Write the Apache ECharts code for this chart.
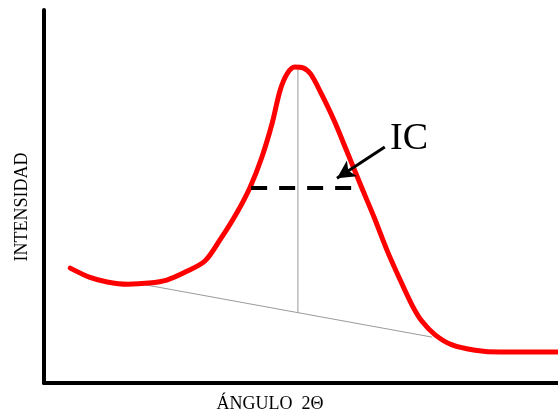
<!DOCTYPE html>
<html>
<head>
<meta charset="utf-8">
<script src="https://cdn.jsdelivr.net/npm/echarts@6/dist/echarts.min.js"></script>
<style>html,body{margin:0;padding:0;background:#fff}#c{width:558px;height:413px}</style>
</head>
<body>
<div id="c"></div>
<script>
// Curve (arbitrary units: x 0-100 along 2θ, y 0-100 intensity)
var curveX = [5.1, 8.8, 12.3, 16.3, 20.4, 23.9, 27.6, 31.3, 34.2, 37.5, 40.1, 42.4, 44.4, 45.9, 47.3, 48.8, 50.4, 51.9, 53.9, 56.4, 58.9, 61.5, 64.2, 66.7, 69.3, 71.6, 73.5, 76.1, 79.4, 83.9, 88.7, 100];
var curveY = [30.8, 28.4, 27.1, 26.5, 26.8, 27.6, 29.8, 32.7, 38.3, 45.6, 52.5, 60.6, 69.7, 78.3, 82.9, 84.7, 84.5, 82.8, 77.7, 70.5, 62.2, 53.4, 44.5, 35.7, 27.6, 20.9, 16.6, 12.9, 10.2, 8.8, 8.3, 8.3];
var baselineX = [19.8, 75.5];
var baselineY = [26.3, 12.3];
var peakLineX = [49.4, 49.4];
var peakLineY = [84.7, 18.8];
var halfX = [40.3, 60.1];
var halfY = [52.3, 52.3];
var arrowFrom = [66.3, 63.3];
var arrowTo = [57.0, 54.9];
var xTitle = 'ÁNGULO  2Θ';
var yTitle = 'INTENSIDAD';
var icLabel = 'IC';

function zip(a, b) { return a.map(function (v, i) { return [v, b[i]]; }); }

var chart = echarts.init(document.getElementById('c'));
chart.setOption({
  animation: false,
  backgroundColor: '#fff',
  grid: { left: 44, right: 0, top: 10, bottom: 30 },
  xAxis: {
    type: 'value', min: 0, max: 100,
    axisLine: { show: true, lineStyle: { color: '#000', width: 4 } },
    axisTick: { show: false }, axisLabel: { show: false }, splitLine: { show: false }
  },
  yAxis: {
    type: 'value', min: 0, max: 100,
    axisLine: { show: true, lineStyle: { color: '#000', width: 4 } },
    axisTick: { show: false }, axisLabel: { show: false }, splitLine: { show: false }
  },
  series: [
    {
      type: 'line', data: zip(baselineX, baselineY), symbol: 'none',
      lineStyle: { color: '#9a9a9a', width: 1 }, z: 1
    },
    {
      type: 'line', data: zip(peakLineX, peakLineY), symbol: 'none',
      lineStyle: { color: '#9a9a9a', width: 1 }, z: 1
    },
    {
      type: 'line', data: zip(halfX, halfY), symbol: 'none',
      lineStyle: { color: '#000', width: 4, type: [16, 12] }, z: 3
    },
    {
      type: 'line', data: zip(curveX, curveY), symbol: 'none', smooth: 0.3,
      lineStyle: { color: '#ff0000', width: 5, cap: 'round', join: 'round' }, z: 2,
      markLine: {
        silent: true, animation: false,
        symbol: ['none', 'arrow'], symbolSize: [14, 18],
        label: { show: false },
        lineStyle: { color: '#000', width: 3, type: 'solid' },
        data: [[{ coord: arrowFrom }, { coord: arrowTo }]]
      }
    }
  ],
  graphic: [
    { type: 'text', left: 390, top: 120, style: { text: icLabel, font: '38px "Liberation Serif", serif', fill: '#000' } },
    { type: 'text', x: 270, y: 404, style: { text: xTitle, font: '18px "Liberation Serif", serif', fill: '#000', align: 'center', verticalAlign: 'middle' } },
    { type: 'text', x: 22, y: 207, rotation: Math.PI / 2, style: { text: yTitle, font: '18px "Liberation Serif", serif', fill: '#000', align: 'center', verticalAlign: 'middle' } }
  ]
});
</script>
</body>
</html>
